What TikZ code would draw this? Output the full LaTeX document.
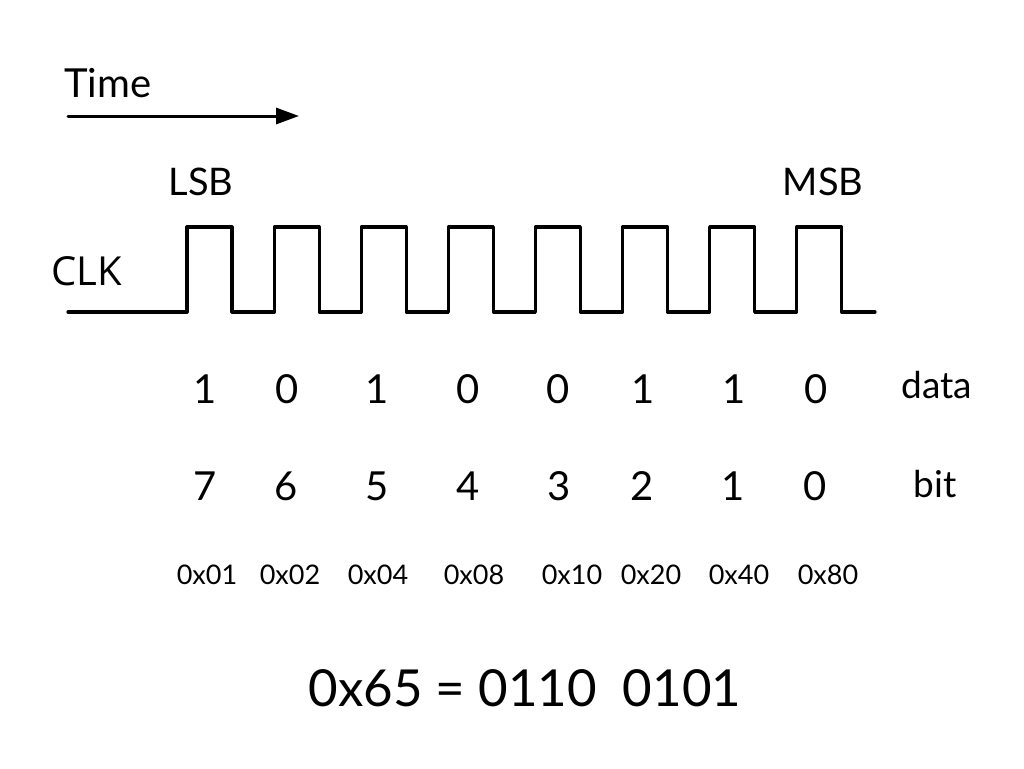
\documentclass[tikz,border=0pt]{standalone}
\usepackage{fontspec}
\setmainfont{Lato}
\newfontfamily\clkfont{Open Sans}
\usetikzlibrary{arrows.meta}

\tikzset{
  wave/.style={line width=3.2pt},
  timearrow/.style={line width=3pt,-{Triangle[length=23pt,width=16pt]}},
  biglbl/.style={font=\fontsize{40}{44}\selectfont, inner sep=0pt},
  digit/.style={font=\fontsize{40}{44}\selectfont, inner sep=0pt, anchor=base},
  hexlbl/.style={font=\fontsize{27}{30}\selectfont, inner sep=0pt, anchor=base},
}

\begin{document}
\begin{tikzpicture}[x=1pt, y=-1pt, line join=round, line cap=round]
	% [Khung - Layer 1]
	\useasboundingbox (0,0) rectangle (1024,768);
	\coordinate (T0) at (68,116);
	\coordinate (T1) at (299,116);
	
	% [Truc thoi gian - Layer 2]
	\node[biglbl, anchor=base west] (time) at (64,97) {Time};
	\draw[timearrow] (T0) -- (T1);
	
	% [Xung CLK - Layer 3]
	\node[biglbl, font=\clkfont\fontsize{40}{44}\selectfont, anchor=base] (clk) at (87,285) {CLK};
	\draw[wave] (68,312) foreach \i in {0,...,7} {
		-- ({187+87.1*\i},312) -- ({187+87.1*\i},227)
		-- ({232+87.1*\i},227) -- ({232+87.1*\i},312) } -- (875,312);
	\node[biglbl, font=\fontsize{38}{42}\selectfont, anchor=base] (lsb) at (201,195) {LSB};
	\node[biglbl, font=\fontsize{38}{42}\selectfont, anchor=base] (msb) at (823,195) {MSB};
	
	% [Nhan du lieu - Layer 4]
	\foreach \x/\v [count=\k] in {205/1,287/0,377/1,468/0,558/0,643/1,734/1,816/0}
		\node[digit] (d\k) at (\x,403) {\v};
	\node[digit, font=\fontsize{37}{40}\selectfont] (data) at (937,398) {data};
	\foreach \x/\v [count=\k] in {205/7,286/6,377/5,468/4,559/3,642/2,733/1,815/0}
		\node[digit] (b\k) at (\x,500) {\v};
	\node[digit, font=\fontsize{37}{40}\selectfont] (bit) at (935,497) {bit};
	\foreach \x/\v [count=\k] in {207/0x01,290/0x02,378/0x04,474/0x08,572/0x10,651/0x20,739/0x40,828/0x80}
		\node[hexlbl] (h\k) at (\x,584) {\v};
	
	% [Ket qua - Layer 5]
	\node[biglbl, font=\fontsize{51}{56}\selectfont, anchor=base] (res) at (525,706) {0x65 = 0110\ \ 0101};
\end{tikzpicture}
\end{document}
